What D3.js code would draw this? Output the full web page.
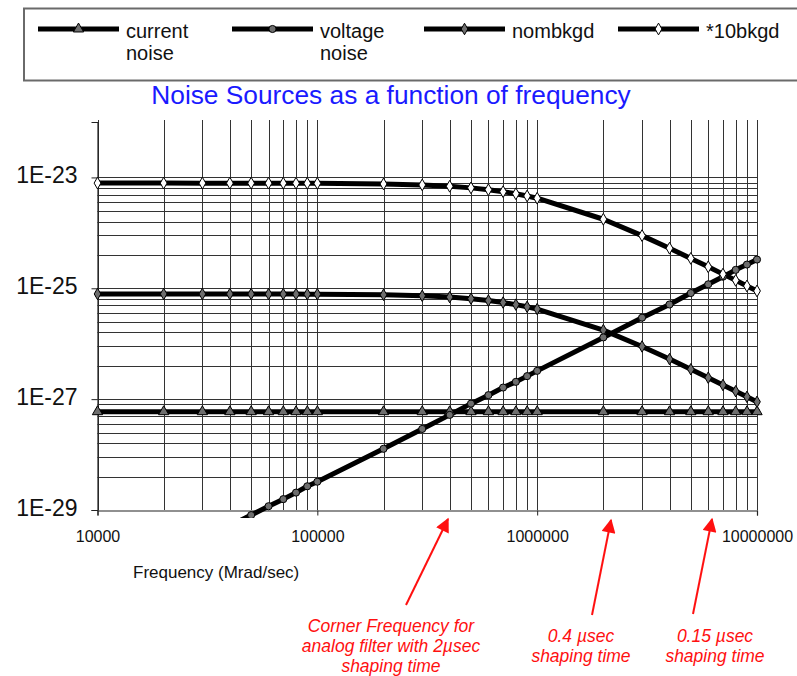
<!DOCTYPE html>
<html>
<head>
<meta charset="utf-8">
<script src="https://cdn.jsdelivr.net/npm/d3@7/dist/d3.min.js"></script>
<style>
  html, body { margin: 0; padding: 0; background: #fff; }
  svg { display: block; font-family: "Liberation Sans", Arial, Helvetica, sans-serif; }
</style>
</head>
<body>
<svg id="chart" width="797" height="676"></svg>
<script>
// Angular frequency samples (Mrad/sec)
const frequencies = [
  10000, 20000, 30000, 40000, 50000, 60000, 70000, 80000, 90000,
  100000, 200000, 300000, 400000, 500000, 600000, 700000, 800000, 900000,
  1000000, 2000000, 3000000, 4000000, 5000000, 6000000, 7000000, 8000000, 9000000,
  10000000
];

// Noise contributions at each frequency
const currentNoise = [
  5.93e-28, 5.93e-28, 5.93e-28, 5.93e-28, 5.93e-28, 5.93e-28, 5.93e-28, 5.93e-28, 5.93e-28,
  5.93e-28, 5.93e-28, 5.93e-28, 5.93e-28, 5.93e-28, 5.93e-28, 5.93e-28, 5.93e-28, 5.93e-28,
  5.93e-28, 5.93e-28, 5.93e-28, 5.93e-28, 5.93e-28, 5.93e-28, 5.93e-28, 5.93e-28, 5.93e-28,
  5.93e-28
];
const voltageNoise = [
  null, null, null, 5.2e-30, 8.1e-30, 1.17e-29, 1.57e-29, 2.06e-29, 2.68e-29,
  3.24e-29, 1.27e-28, 2.9e-28, 5.2e-28, 8.3e-28, 1.18e-27, 1.62e-27, 2.05e-27, 2.6e-27,
  3.24e-27, 1.3e-26, 2.95e-26, 5.1e-26, 8.2e-26, 1.18e-25, 1.62e-25, 2.15e-25, 2.68e-25,
  3.3e-25
];
const nomBkgd = [
  7.9e-26, 7.9e-26, 7.89e-26, 7.89e-26, 7.88e-26, 7.88e-26, 7.87e-26, 7.86e-26, 7.84e-26,
  7.83e-26, 7.63e-26, 7.32e-26, 6.93e-26, 6.48e-26, 6.01e-26, 5.53e-26, 5.07e-26, 4.63e-26,
  4.22e-26, 1.76e-26, 8.92e-27, 5.28e-27, 3.46e-27, 2.44e-27, 1.80e-27, 1.39e-27, 1.10e-27,
  8.95e-28
];
const tenBkgd = [
  7.9e-24, 7.9e-24, 7.89e-24, 7.89e-24, 7.88e-24, 7.88e-24, 7.87e-24, 7.86e-24, 7.84e-24,
  7.83e-24, 7.63e-24, 7.32e-24, 6.93e-24, 6.48e-24, 6.01e-24, 5.53e-24, 5.07e-24, 4.63e-24,
  4.22e-24, 1.76e-24, 8.92e-25, 5.28e-25, 3.46e-25, 2.44e-25, 1.80e-25, 1.39e-25, 1.10e-25,
  8.95e-26
];

// Axis ticks and labels
const xTickValues = [10000, 100000, 1000000, 10000000];
const xTickLabels = ["10000", "100000", "1000000", "10000000"];
const yTickValues = [1e-29, 1e-27, 1e-25, 1e-23];
const yTickLabels = ["1E-29", "1E-27", "1E-25", "1E-23"];
// Minor horizontal gridlines sit at k^2 times each labelled power
const yMinorMultipliers = [4, 9, 16, 25, 36, 49, 64, 81];
const yMinorBases = [1e-29, 1e-27, 1e-25];

const seriesNames = ["current\nnoise", "voltage\nnoise", "nombkgd", "*10bkgd"];

const titleText = "Noise Sources as a function of frequency";
const xAxisTitle = "Frequency (Mrad/sec)";

const annotations = [
  { lines: ["Corner Frequency for", "analog filter with 2\u00b5sec", "shaping time"] },
  { lines: ["0.4 \u00b5sec", "shaping time"] },
  { lines: ["0.15 \u00b5sec", "shaping time"] }
];

// ---- layout ----
const svg = d3.select("#chart");
const plotLeft = 97.5, plotRight = 757, plotTop = 120, plotBottom = 510;

const x = d3.scaleLog().domain([1e4, 1e7]).range([plotLeft, plotRight]);
const y = d3.scaleLog().domain([1e-29, 1e-22]).range([plotBottom, 122]);

// ---- legend ----
const legend = svg.append("g");
legend.append("rect")
  .attr("x", 24).attr("y", 8.5).attr("width", 790).attr("height", 72)
  .attr("fill", "#fff").attr("stroke", "#6a6a6a").attr("stroke-width", 2);

const series = [
  { values: currentNoise, symbol: d3.symbolTriangle, size: 46, fill: "#6e6e6e" },
  { values: voltageNoise, symbol: d3.symbolCircle, size: 40, fill: "#6e6e6e" },
  { values: nomBkgd, symbol: d3.symbolDiamond, size: 38, fill: "#6e6e6e" },
  { values: tenBkgd, symbol: d3.symbolDiamond, size: 40, fill: "#ffffff" }
];
const legendX = [38, 232, 424, 618];
const legendLineLen = 81;

series.forEach((s, i) => {
  const g = legend.append("g").attr("transform", `translate(${legendX[i]},29)`);
  g.append("line").attr("x1", 0).attr("x2", legendLineLen).attr("y1", 0).attr("y2", 0)
    .attr("stroke", "#000").attr("stroke-width", 5);
  g.append("path").attr("d", d3.symbol().type(s.symbol).size(s.size)())
    .attr("transform", `translate(${legendLineLen / 2},0)`)
    .attr("fill", s.fill).attr("stroke", "#000").attr("stroke-width", 1);
  const t = g.append("text").attr("x", legendLineLen + 7).attr("y", 8.5)
    .attr("font-size", 20).attr("fill", "#111");
  seriesNames[i].split("\n").forEach((ln, j) => {
    t.append("tspan").attr("x", legendLineLen + 7).attr("dy", j === 0 ? 0 : 22.7).text(ln);
  });
});

// ---- title ----
svg.append("text")
  .attr("x", 391).attr("y", 104)
  .attr("text-anchor", "middle")
  .attr("font-size", 26.3)
  .attr("fill", "#1a1aff")
  .text(titleText);

// ---- gridlines ----
const grid = svg.append("g").attr("stroke", "#333").attr("stroke-width", 1);
grid.selectAll("line.v").data(frequencies).join("line")
  .attr("x1", d => Math.round(x(d)) + 0.5).attr("x2", d => Math.round(x(d)) + 0.5)
  .attr("y1", plotTop).attr("y2", plotBottom);

const yMinor = [];
yMinorBases.forEach(b => yMinorMultipliers.forEach(m => yMinor.push(b * m)));
const yGridValues = yTickValues.slice(1).concat(yMinor);
grid.selectAll("line.h").data(yGridValues).join("line")
  .attr("x1", plotLeft).attr("x2", plotRight)
  .attr("y1", d => Math.round(y(d)) + 0.5).attr("y2", d => Math.round(y(d)) + 0.5);

// ---- axes ----
const xAxis = d3.axisBottom(x).tickValues(xTickValues).tickSize(5)
  .tickFormat((d, i) => xTickLabels[i]);
const gx = svg.append("g").attr("transform", `translate(0,${plotBottom + 0.5})`).call(xAxis);
gx.select(".domain").attr("stroke", "#222").attr("stroke-width", 1.2);
gx.selectAll(".tick line").attr("stroke", "#222");
gx.selectAll(".tick text").attr("font-size", 16).attr("fill", "#111")
  .attr("font-family", "Liberation Sans, Arial, sans-serif").attr("dy", 0).attr("y", 31);

const yAxis = d3.axisLeft(y).tickValues(yTickValues).tickSize(6)
  .tickFormat((d, i) => yTickLabels[i]);
const gy = svg.append("g").attr("transform", `translate(${plotLeft},0)`).call(yAxis);
gy.select(".domain").attr("stroke", "#222").attr("stroke-width", 1.2);
gy.selectAll(".tick line").attr("stroke", "#222");
gy.selectAll(".tick text").attr("font-size", 23).attr("fill", "#111")
  .attr("font-family", "Liberation Sans, Arial, sans-serif")
  .attr("x", -20).attr("dy", 0).attr("y", 5);

svg.append("text")
  .attr("x", 133).attr("y", 578)
  .attr("font-size", 17).attr("fill", "#111")
  .text(xAxisTitle);

// ---- series ----
svg.append("clipPath").attr("id", "plotClip")
  .append("rect").attr("x", 85).attr("y", 112).attr("width", 690).attr("height", 406);

const plot = svg.append("g").attr("clip-path", "url(#plotClip)");
const line = d3.line()
  .defined(d => d[1] != null)
  .x(d => x(d[0])).y(d => y(d[1]));

const drawOrder = [0, 2, 1, 3];
drawOrder.forEach(i => {
  const pts = frequencies.map((f, j) => [f, series[i].values[j]]);
  plot.append("path").datum(pts)
    .attr("d", line)
    .attr("fill", "none").attr("stroke", "#000").attr("stroke-width", 5)
    .attr("stroke-linejoin", "round").attr("stroke-linecap", "square");
});
drawOrder.forEach(i => {
  const s = series[i];
  const pts = frequencies.map((f, j) => [f, s.values[j]]).filter(d => d[1] != null);
  plot.selectAll(null).data(pts).join("path")
    .attr("d", d3.symbol().type(s.symbol).size(s.size)())
    .attr("transform", d => `translate(${x(d[0])},${y(d[1])})`)
    .attr("fill", s.fill).attr("stroke", "#000").attr("stroke-width", 1);
});

// ---- annotations ----
const red = "#ff1010";
const defs = svg.append("defs");
defs.append("marker").attr("id", "arrowHead")
  .attr("viewBox", "0 0 10 10").attr("refX", 9).attr("refY", 5)
  .attr("markerWidth", 8).attr("markerHeight", 7).attr("orient", "auto")
  .attr("markerUnits", "strokeWidth")
  .append("path").attr("d", "M0,0 L10,5 L0,10 Z").attr("fill", red);

const annPlacement = [
  { cx: 391, y0: 632, tail: [406, 605], tip: [448, 519] },
  { cx: 581, y0: 642, tail: [592, 615], tip: [611, 520] },
  { cx: 715, y0: 642, tail: [693, 614], tip: [712, 519] }
];
annotations.forEach((a, i) => {
  const p = annPlacement[i];
  svg.append("line")
    .attr("x1", p.tail[0]).attr("y1", p.tail[1])
    .attr("x2", p.tip[0]).attr("y2", p.tip[1])
    .attr("stroke", red).attr("stroke-width", 2)
    .attr("marker-end", "url(#arrowHead)");
  const t = svg.append("text").attr("text-anchor", "middle")
    .attr("font-size", 17.5).attr("font-style", "italic").attr("fill", red)
    .attr("y", p.y0);
  a.lines.forEach((ln, j) => {
    t.append("tspan").attr("x", p.cx).attr("dy", j === 0 ? 0 : 20).text(ln);
  });
});
</script>
</body>
</html>
